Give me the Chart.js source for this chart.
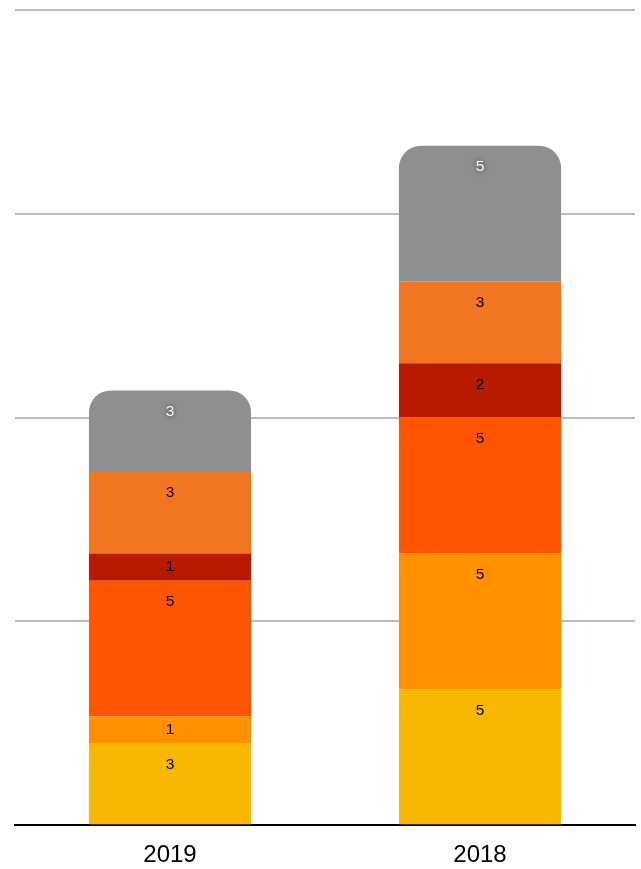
<!DOCTYPE html>
<html>
<head>
<meta charset="utf-8">
<script src="https://cdn.jsdelivr.net/npm/chart.js@4.4.1/dist/chart.umd.min.js"></script>
<style>
  html, body { margin: 0; padding: 0; background: #fff; }
  #wrap { width: 641px; height: 869px; }
</style>
</head>
<body>
<div id="wrap"><canvas id="chart" width="641" height="869"></canvas></div>
<script>
// ---- data ----
const years = ['2019', '2018'];
const seriesYellow    = [3, 5];
const seriesOrange    = [1, 5];
const seriesRedOrange = [5, 5];
const seriesDarkRed   = [1, 2];
const seriesOrange2   = [3, 3];
const seriesGray      = [3, 5];
const yTicks = [0, 7.5, 15, 22.5, 30];

const colors = ['#F8B800', '#FF9000', '#FF5500', '#B81A00', '#F27522', '#8E8F8E'];
const allSeries = [seriesYellow, seriesOrange, seriesRedOrange, seriesDarkRed, seriesOrange2, seriesGray];

const datasets = allSeries.map((d, i) => {
  const top = i === allSeries.length - 1;
  return {
    data: d,
    backgroundColor: colors[i],
    borderWidth: 0,
    borderSkipped: false,
    borderRadius: top ? { topLeft: 22, topRight: 22, bottomLeft: 0, bottomRight: 0 } : 0,
    barPercentage: 0.523,
    categoryPercentage: 1
  };
});

// labels near the top of each segment
const segLabels = {
  id: 'segLabels',
  afterDatasetsDraw(chart) {
    const ctx = chart.ctx;
    ctx.save();
    ctx.font = '15.5px "Liberation Sans", Arial, sans-serif';
    ctx.textAlign = 'center';
    ctx.textBaseline = 'middle';
    chart.data.datasets.forEach((ds, di) => {
      const meta = chart.getDatasetMeta(di);
      const last = di === chart.data.datasets.length - 1;
      meta.data.forEach((el, i) => {
        const h = el.base - el.y;
        const y = el.y + Math.min(21, h / 2);
        if (last) {
          ctx.fillStyle = '#fff';
          ctx.shadowColor = 'rgba(0,0,0,0.7)';
          ctx.shadowBlur = 5;
        } else {
          ctx.fillStyle = '#000';
          ctx.shadowColor = 'transparent';
          ctx.shadowBlur = 0;
        }
        ctx.fillText(String(ds.data[i]), el.x, y);
      });
    });
    ctx.restore();
  }
};

new Chart(document.getElementById('chart'), {
  type: 'bar',
  data: { labels: years, datasets: datasets },
  plugins: [segLabels],
  options: {
    responsive: false,
    animation: false,
    layout: { padding: { left: 15, right: 6, top: 10, bottom: -17 } },
    plugins: { legend: { display: false }, tooltip: { enabled: false } },
    scales: {
      x: {
        stacked: true,
        grid: { display: false, drawTicks: false, tickLength: 0 },
        border: { display: true, color: '#000', width: 2 },
        ticks: {
          color: '#000',
          padding: 16,
          font: { family: '"Liberation Sans", Arial, sans-serif', size: 24 }
        }
      },
      y: {
        stacked: true,
        min: 0,
        max: 30,
        afterBuildTicks: (axis) => { axis.ticks = yTicks.map(v => ({ value: v })); },
        ticks: { display: false },
        border: { display: false },
        grid: {
          drawTicks: false,
          lineWidth: 2,
          color: (c) => c.tick && c.tick.value === 0 ? 'rgba(0,0,0,0)' : '#BDBDBD'
        }
      }
    }
  }
});
</script>
</body>
</html>
